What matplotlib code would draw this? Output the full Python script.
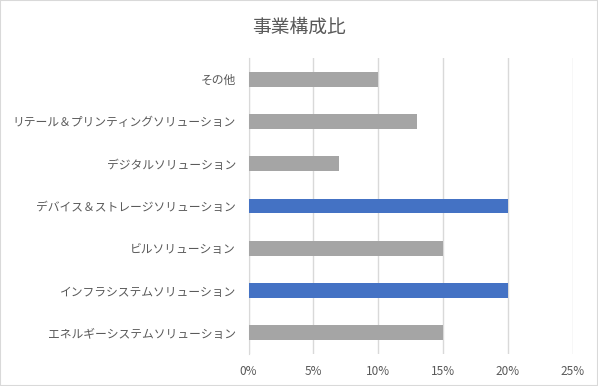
import matplotlib.pyplot as plt
from matplotlib.ticker import PercentFormatter

plt.rcParams['font.family'] = ['Noto Sans CJK JP', 'DejaVu Sans']

# data, bottom to top
categories = ['エネルギーシステムソリューション', 'インフラシステムソリューション', 'ビルソリューション',
              'デバイス＆ストレージソリューション', 'デジタルソリューション',
              'リテール＆プリンティングソリューション', 'その他']
shares = [15, 20, 15, 20, 7, 13, 10]
highlight = [False, True, False, True, False, False, False]

text_col = '#595959'
colors = ['#4472C4' if h else '#A5A5A5' for h in highlight]

fig = plt.figure(figsize=(5.98, 3.86), dpi=100)
fig.patches.append(plt.Rectangle((0, 0), 1, 1, transform=fig.transFigure,
                                 fill=False, edgecolor='#D9D9D9', linewidth=1.5))
ax = fig.add_axes([248.5 / 598, 1 - 354 / 386, 324 / 598, 296 / 386])

ax.barh(range(len(categories)), shares, height=0.35, color=colors, zorder=3)
ax.set_xlim(0, 25)
ax.set_ylim(-0.5, len(categories) - 0.5)
ax.set_xticks(range(0, 26, 5))
ax.xaxis.set_major_formatter(PercentFormatter(decimals=0))
ax.set_yticks(range(len(categories)))
ax.set_yticklabels(categories)
ax.grid(axis='x', color='#D9D9D9', linewidth=1, zorder=0)
ax.tick_params(axis='both', length=0, colors=text_col, labelsize=8.5)
ax.tick_params(axis='x', pad=8)
ax.tick_params(axis='y', pad=9)
for s in ['top', 'right', 'bottom']:
    ax.spines[s].set_visible(False)
ax.spines['left'].set_color('#D9D9D9')

fig.text(0.5, 1 - 27 / 386, '事業構成比', ha='center', va='center',
         fontsize=13.5, color=text_col)

fig.savefig('out.png', dpi=100)
